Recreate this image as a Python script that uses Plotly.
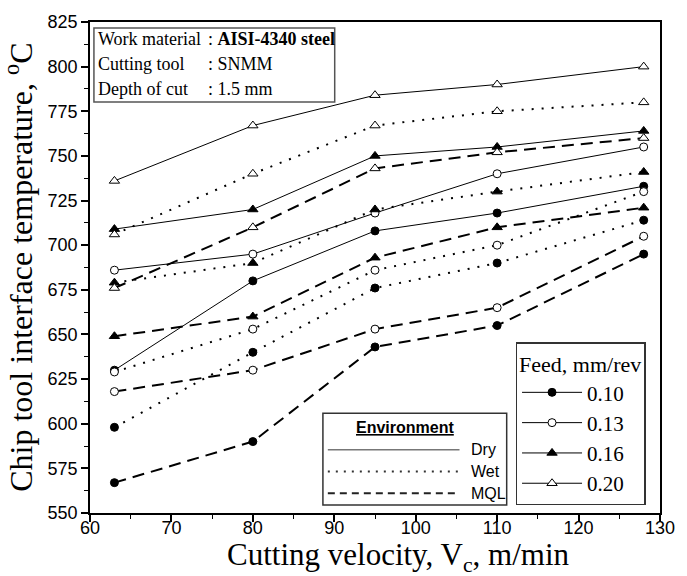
import plotly.graph_objects as go

# ---------------- data ----------------
velocity = [63, 80, 95, 110, 128]
feed_labels = ["0.10", "0.13", "0.16", "0.20"]
environments = ["Dry", "Wet", "MQL"]

dry_010 = [630, 680, 708, 718, 733]
dry_013 = [686, 695, 718, 740, 755]
dry_016 = [709, 720, 750, 755, 764]
dry_020 = [736, 767, 784, 790, 800]

wet_010 = [598, 640, 676, 690, 714]
wet_013 = [629, 653, 686, 700, 730]
wet_016 = [679, 690, 720, 730, 741]
wet_020 = [706, 740, 767, 775, 780]

mql_010 = [567, 590, 643, 655, 695]
mql_013 = [618, 630, 653, 665, 705]
mql_016 = [649, 660, 693, 710, 721]
mql_020 = [676, 710, 743, 752, 760]

x_ticks = [60, 70, 80, 90, 100, 110, 120, 130]
y_ticks = [550, 575, 600, 625, 650, 675, 700, 725, 750, 775, 800, 825]

series = {
    "Dry": [dry_010, dry_013, dry_016, dry_020],
    "Wet": [wet_010, wet_013, wet_016, wet_020],
    "MQL": [mql_010, mql_013, mql_016, mql_020],
}

# ---------------- styles ----------------
W, H = 687, 576
ML, MR, MT, MB = 90, 17, 16, 63
PW, PH = W - ML - MR, H - MT - MB


def px(x):
    return (x - ML) / PW


def py(y):
    return (H - MB - y) / PH


line_styles = {
    "Dry": dict(width=1, dash="solid"),
    "Wet": dict(width=2, dash="2px,8px"),
    "MQL": dict(width=2, dash="12px,7px"),
}
marker_styles = [
    dict(symbol="circle", size=8, color="black", line=dict(color="black", width=1)),
    dict(symbol="circle", size=8, color="white", line=dict(color="black", width=1)),
    dict(symbol="triangle-up", size=9, color="black", line=dict(color="black", width=1)),
    dict(symbol="triangle-up", size=9, color="white", line=dict(color="black", width=1)),
]

SERIF = "Liberation Serif, Times New Roman, serif"
SANS = "Liberation Sans, Arial, sans-serif"

fig = go.Figure()

for env in environments:
    for i, vals in enumerate(series[env]):
        fig.add_trace(go.Scatter(
            x=velocity, y=vals, mode="lines+markers",
            line=dict(color="black", **line_styles[env]),
            marker=marker_styles[i],
            showlegend=False, name=f"{env} {feed_labels[i]}",
        ))

# legend entries for feed
for i, lab in enumerate(feed_labels):
    fig.add_trace(go.Scatter(
        x=[None], y=[None], mode="lines+markers",
        line=dict(color="black", width=1),
        marker=marker_styles[i], name=lab, showlegend=True,
    ))

axis_common = dict(
    showline=True, linecolor="black", linewidth=1.5, mirror=True,
    ticks="outside", ticklen=7, tickwidth=1.5, tickcolor="black",
    showgrid=False, zeroline=False,
    tickfont=dict(family=SANS, size=18, color="black"),
)

fig.update_layout(
    width=W, height=H,
    margin=dict(l=ML, r=MR, t=MT, b=MB),
    paper_bgcolor="white", plot_bgcolor="white",
    xaxis=dict(range=[60, 130], tickvals=x_ticks,
               minor=dict(dtick=5, ticks="outside", ticklen=4, tickwidth=1.2, tickcolor="black"),
               ticklabelstandoff=-9, **axis_common),
    yaxis=dict(range=[550, 825], tickvals=y_ticks,
               minor=dict(dtick=12.5, ticks="outside", ticklen=4, tickwidth=1.2, tickcolor="black"),
               **axis_common),
    legend=dict(
        x=px(523), y=py(340), xanchor="left", yanchor="top",
        bordercolor="#333", borderwidth=1.5, bgcolor="white",
        font=dict(family=SERIF, size=21, color="black"),
        title=dict(text="Feed, mm/rev", font=dict(family=SERIF, size=22, color="black")),
        itemwidth=60, tracegroupgap=0,
    ),
    showlegend=True,
)

shapes = []
annotations = []

# axis titles
annotations.append(dict(
    text="Cutting velocity, V<sub>c</sub>, m/min", xref="paper", yref="paper",
    x=px(404), y=py(558), xanchor="center", yanchor="middle", showarrow=False,
    font=dict(family=SERIF, size=31, color="black"),
))
annotations.append(dict(
    text="Chip tool interface temperature, <sup>o</sup>C", xref="paper", yref="paper",
    x=px(17), y=0.5, xanchor="center", yanchor="middle", showarrow=False, textangle=-90,
    font=dict(family=SERIF, size=32, color="black"),
))

# info box
shapes.append(dict(type="rect", xref="paper", yref="paper",
                   x0=px(94), x1=px(339), y0=py(97), y1=py(22),
                   line=dict(color="#555", width=1.5), fillcolor="rgba(0,0,0,0)"))
info_rows = [("Work material", ": <b>AISI-4340 steel</b>"),
             ("Cutting tool", ": SNMM"),
             ("Depth of cut", ": 1.5 mm")]
for k, (lab, val) in enumerate(info_rows):
    yy = 33.5 + 25 * k
    annotations.append(dict(text=lab, xref="paper", yref="paper", x=px(96), y=py(yy),
                            xanchor="left", yanchor="middle", showarrow=False,
                            font=dict(family=SERIF, size=18, color="black")))
    annotations.append(dict(text=val, xref="paper", yref="paper", x=px(208), y=py(yy),
                            xanchor="left", yanchor="middle", showarrow=False,
                            font=dict(family=SERIF, size=18, color="black")))

# environment legend box
shapes.append(dict(type="rect", xref="paper", yref="paper",
                   x0=px(327), x1=px(514), y0=py(505), y1=py(412),
                   line=dict(color="#333", width=1.5), fillcolor="white", layer="above"))
annotations.append(dict(text="<b><u>Environment</u></b>", xref="paper", yref="paper",
                        x=px(411), y=py(426), xanchor="center", yanchor="middle", showarrow=False,
                        font=dict(family=SANS, size=16, color="black")))
env_legend = [("Dry", 449, dict(color="#777", width=1.5, dash="solid")),
              ("Wet", 471, dict(color="#333", width=2, dash="2px,6px")),
              ("MQL", 493, dict(color="#222", width=2, dash="7px,5px"))]
for lab, yy, ln in env_legend:
    shapes.append(dict(type="line", xref="paper", yref="paper",
                       x0=px(332), x1=px(466), y0=py(yy), y1=py(yy), line=ln, layer="above"))
    annotations.append(dict(text=lab, xref="paper", yref="paper", x=px(476), y=py(yy),
                            xanchor="left", yanchor="middle", showarrow=False,
                            font=dict(family=SANS, size=16, color="black")))

fig.update_layout(shapes=shapes, annotations=annotations)

fig.write_html("out.html")
